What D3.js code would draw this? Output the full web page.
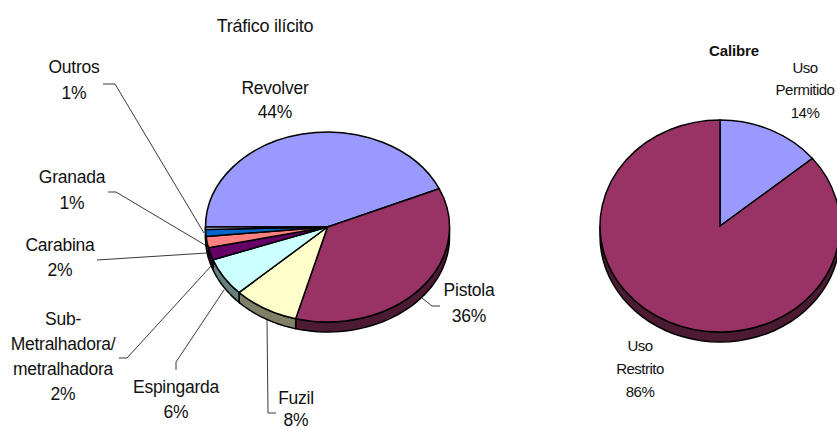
<!DOCTYPE html>
<html><head><meta charset="utf-8">
<script src="https://cdn.jsdelivr.net/npm/d3@7"></script>
<style>html,body{margin:0;padding:0;background:#fff}svg{display:block}text{font-family:"Liberation Sans",Arial,sans-serif;fill:#111;text-anchor:middle}</style>
</head><body><svg id="c" width="837" height="430"></svg>
<script>
const traficoCategories = ["Revolver","Pistola","Fuzil","Espingarda","Sub-Metralhadora/metralhadora","Carabina","Granada","Outros"];
const traficoValues = [43.4,35.8,8.7,6.5,2.1,1.9,1.2,0.4];
const traficoLabels = ["44%","36%","8%","6%","2%","2%","1%","1%"];
const traficoColors = ["#9999FF","#993366","#FFFFCC","#CCFFFF","#660066","#FF8080","#0066CC","#CCCCFF"];
const calibreCategories = ["Uso Permitido","Uso Restrito"];
const calibreValues = [14,86];
const calibreLabels = ["14%","86%"];
const calibreColors = ["#9999FF","#993366"];

const svg = d3.select("#c");

function pie3d(values, colors, cx, cy, rx, ry, depth, startDeg){
  const pie = d3.pie().sort(null).value(d=>d).startAngle(startDeg*Math.PI/180).endAngle((startDeg+360)*Math.PI/180);
  const arcs = pie(values).map((a,i)=>({...a,color:colors[i]}));
  const g = svg.append("g").attr("transform",`translate(${cx},${cy})`);
  const px=a=>rx*Math.sin(a), py=a=>-ry*Math.cos(a);
  arcs.forEach(a=>{
    const twoPi=2*Math.PI, lo=Math.PI/2, hi=3*Math.PI/2;
    [0,twoPi].forEach(off=>{
      const s=Math.max(a.startAngle-off,lo), e=Math.min(a.endAngle-off,hi);
      if(e<=s) return;
      const p=d3.path();
      const n=40, pts=d3.range(n+1).map(k=>s+(e-s)*k/n);
      pts.forEach((t,k)=>k?p.lineTo(px(t),py(t)):p.moveTo(px(t),py(t)));
      pts.slice().reverse().forEach(t=>p.lineTo(px(t),py(t)+depth));
      p.closePath();
      const c=d3.rgb(a.color);
      g.append("path").attr("d",p.toString())
        .attr("fill",d3.rgb(c.r/2,c.g/2,c.b/2).formatHex())
        .attr("stroke","#000").attr("stroke-width",1.5);
    });
  });
  const arc=d3.arc().innerRadius(0).outerRadius(rx);
  g.append("g").attr("transform",`scale(1,${ry/rx})`).selectAll("path").data(arcs).join("path")
    .attr("d",arc).attr("fill",d=>d.color).attr("stroke","#000").attr("stroke-width",1.5)
    .attr("vector-effect","non-scaling-stroke");
}
pie3d(traficoValues,traficoColors,327.5,227,122,95,10,270);
pie3d(calibreValues,calibreColors,720,226,120,106,10,0);

const leaders=[
 [[103,84],[115,84],[204,233]],
 [[108,192],[116,192],[205,245]],
 [[97,260],[207,253]],
 [[119,358],[127,358],[212,265]],
 [[176,370],[176,362],[224,290]],
 [[276,413],[268,413],[267,320]],
 [[422,298],[432,306],[440,306]]
];
const line=d3.line();
svg.append("g").selectAll("path").data(leaders).join("path").attr("d",d=>line(d))
  .attr("fill","none").attr("stroke","#222").attr("stroke-width",0.9);

const texts=[
 ["Tráfico ilícito",265,26,18],
 [traficoCategories[0],275,88,17.5],[traficoLabels[0],275,112,17.5],
 [traficoCategories[1],469,290,17.5],[traficoLabels[1],469,316,17.5],
 [traficoCategories[2],296,398,17.5],[traficoLabels[2],296,420,17.5],
 [traficoCategories[3],176,387,17.5],[traficoLabels[3],176,412,17.5],
 ["Sub-",63,319,17.5],["Metralhadora/",63,344,17.5],["metralhadora",63,369,17.5],[traficoLabels[4],63,394,17.5],
 [traficoCategories[5],60,245,17.5],[traficoLabels[5],60,270,17.5],
 [traficoCategories[6],72,177,17.5],[traficoLabels[6],72,203,17.5],
 [traficoCategories[7],74,67,17.5],[traficoLabels[7],74,93,17.5],
 ["Uso",805,68,15],["Permitido",805,90,15],[calibreLabels[0],805,113,15],
 ["Uso",640,346,15],["Restrito",640,369,15],[calibreLabels[1],640,392,15]
];
svg.append("g").selectAll("text").data(texts).join("text")
  .attr("x",d=>d[1]).attr("y",d=>d[2]).attr("dy","0.35em").attr("font-size",d=>d[3]).attr("letter-spacing",d=>d[3]==15?-0.5:-0.25).text(d=>d[0]);
svg.append("text").attr("x",734).attr("y",51).attr("dy","0.35em").attr("font-size",15).attr("font-weight","bold").attr("letter-spacing",-0.1).text("Calibre");
</script></body></html>
